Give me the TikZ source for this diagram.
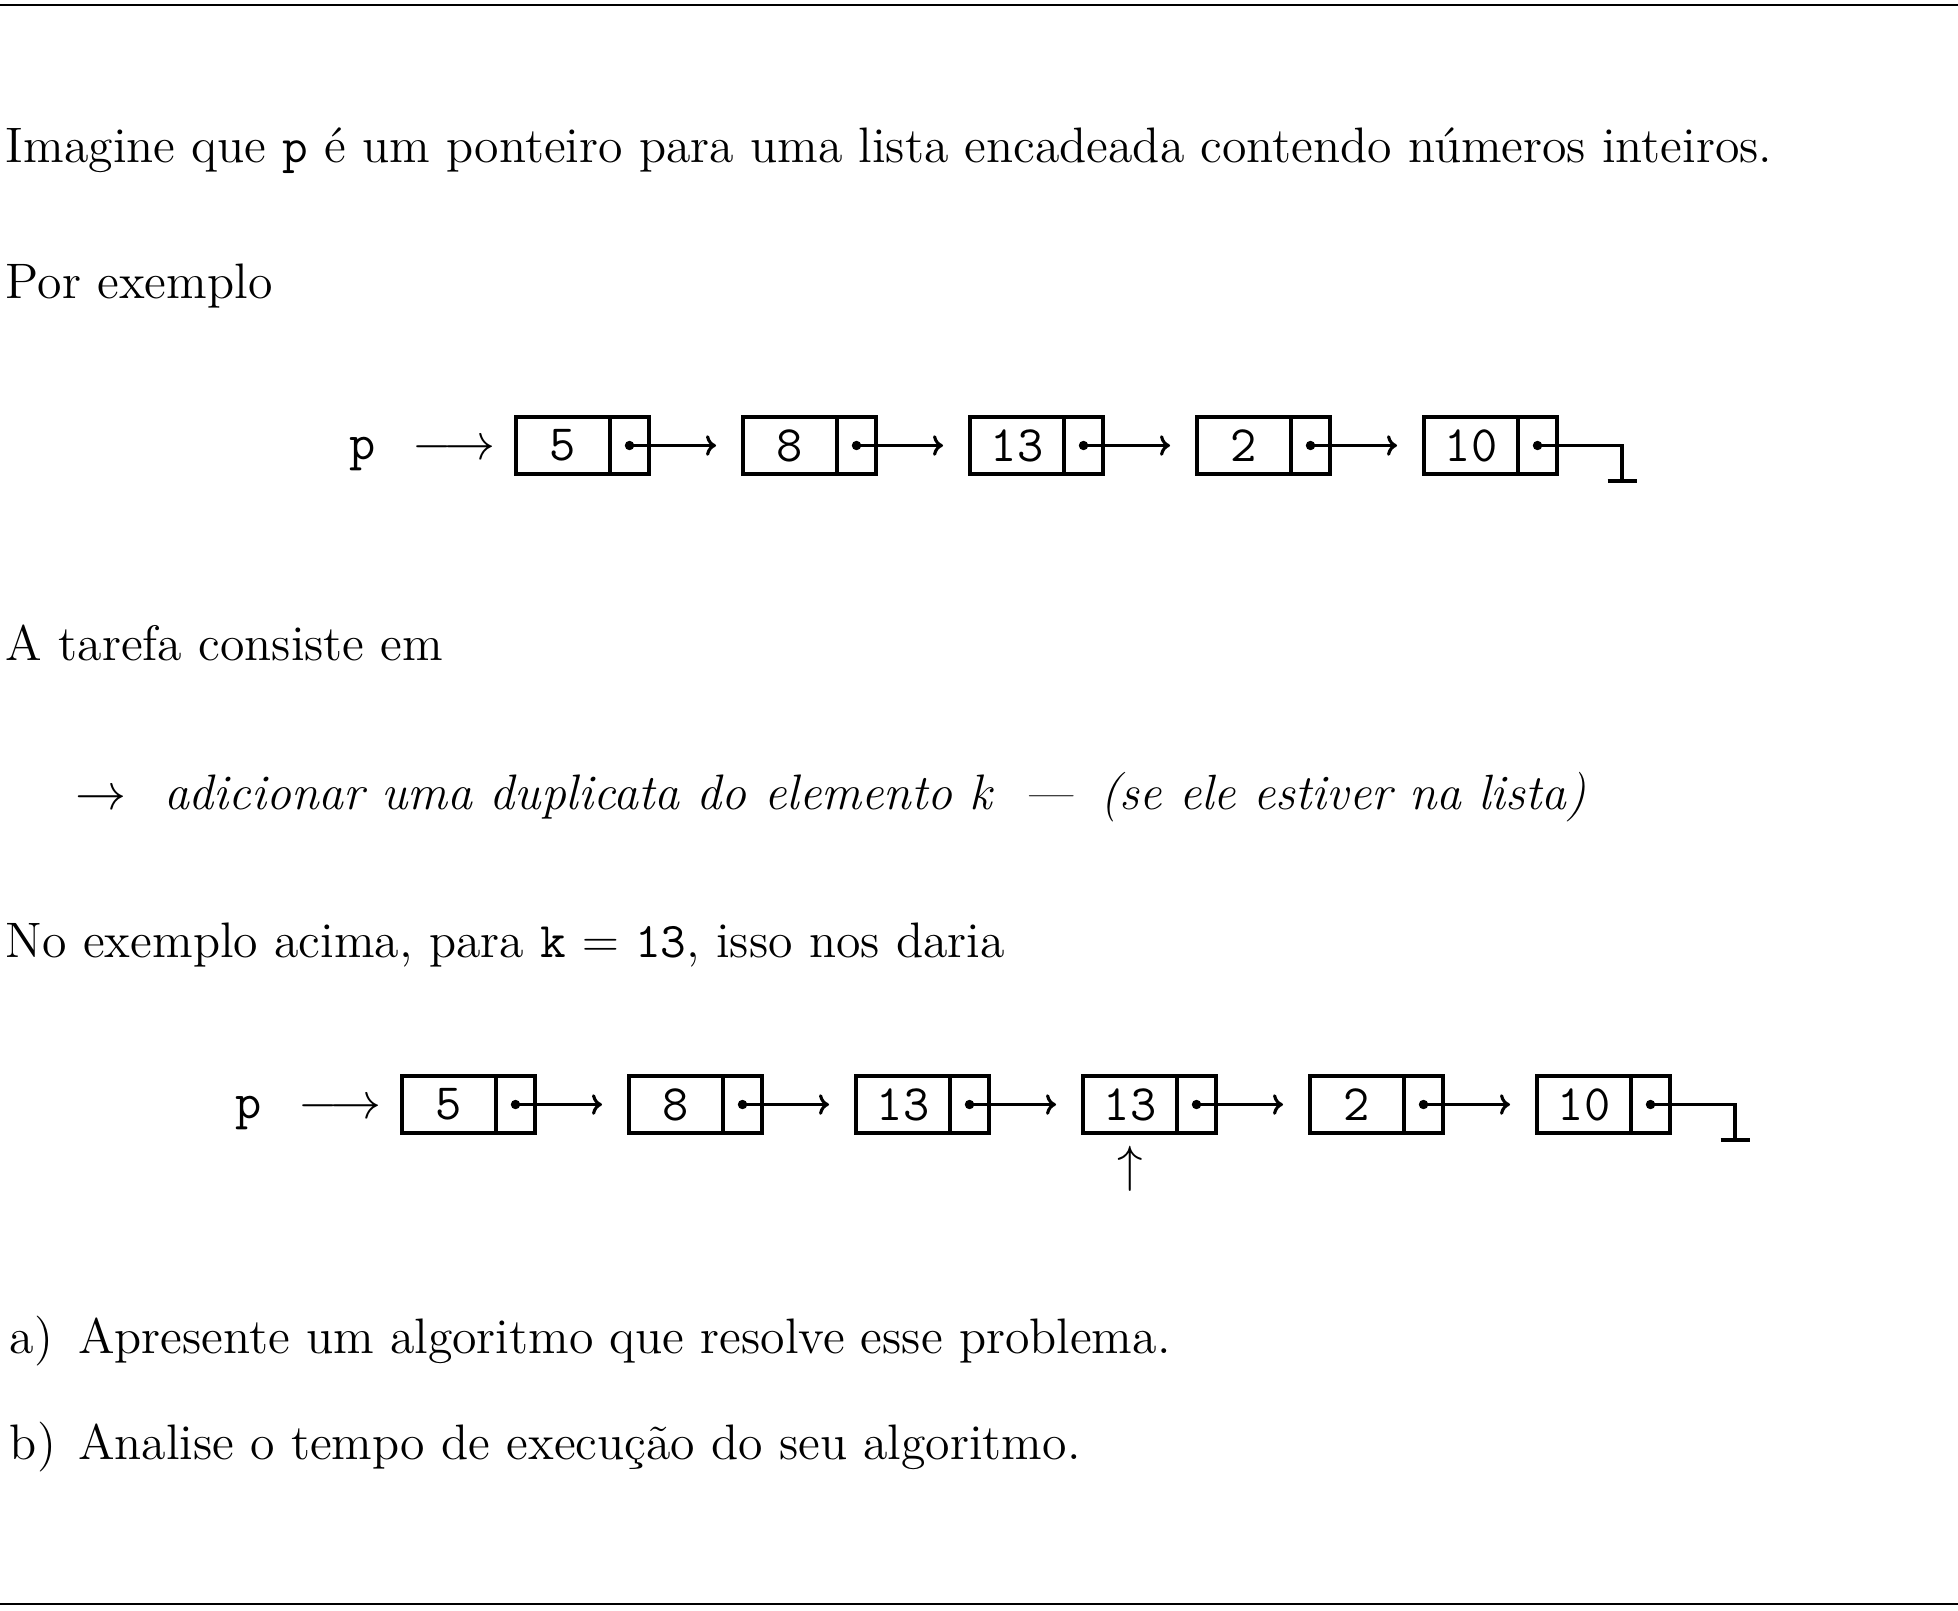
\documentclass[tikz,border=0pt]{standalone}
\usepackage{fontspec}
\setmainfont{lmroman12-regular.otf}[ItalicFont=lmroman12-italic.otf,BoldFont=lmroman12-bold.otf]
\usetikzlibrary{arrows.meta}
\begin{document}
\begin{tikzpicture}[x=0.339pt,y=-0.339pt,
  every node/.style={inner sep=0pt,outer sep=0pt},
  font=\fontsize{17.28}{21}\selectfont,
  txt/.style={anchor=base west,font=\fontsize{16.9}{21}\selectfont},
  itxt/.style={anchor=base west,font=\fontsize{16.9}{21}\selectfont\itshape},
  valcell/.style={draw,line width=1.05pt,minimum width=31.87pt,minimum height=19.32pt,font=\fontsize{17.28}{21}\selectfont\ttfamily},
  ptrcell/.style={draw,line width=1.05pt,minimum width=13.22pt,minimum height=19.32pt,anchor=west},
  link/.style={line width=1.05pt,-{Computer Modern Rightarrow[length=3.4pt,width=7pt]},shorten >=9.15pt},
  nil/.style={line width=1.05pt},
  rulestyle/.style={line width=0.68pt}]
\useasboundingbox (0,0) rectangle (1958,1610);
\draw[rulestyle] (0,5) -- (1958,5);
\draw[rulestyle] (0,1604) -- (1958,1604);
% texts
\node[txt] (t1) at (6,162) {Imagine que \texttt{p} é um ponteiro para uma lista encadeada contendo números inteiros.};
\node[txt] (t2) at (6,298) {Por exemplo};
\node[txt] (t3) at (6,660) {A tarefa consiste em};
\node[anchor=base west] (t4a) at (76,809) {$\rightarrow$};
\node[itxt] (t4b) at (164,809) {adicionar uma duplicata do elemento k};
\node[itxt] (t4c) at (1023,809) {—};
\node[itxt,font=\fontsize{16.8}{21}\selectfont\itshape] (t4d) at (1100,809) {(se ele estiver na lista)};
\node[txt] (t5) at (6,957) {No exemplo acima, para \texttt{k} $=$ \texttt{13}, isso nos daria};
\node[txt] (t6a) at (10,1353) {a)};
\node[txt] (t6b) at (78,1353) {Apresente um algoritmo que resolve esse problema.};
\node[txt] (t7a) at (10,1459) {b)};
\node[txt] (t7b) at (78,1459) {Analise o tempo de execução do seu algoritmo.};
% list 1
\node[anchor=base,font=\fontsize{17.28}{21}\selectfont\ttfamily] (pa) at (363,459) {p};
\node[anchor=base] (ra) at (454,459) {$\longrightarrow$};
\foreach \v [count=\i] in {5,8,13,2,10} {
  \node[valcell] (v\i) at ({563+227*(\i-1)},445.5) {\v};
  \node[ptrcell] (n\i) at (v\i.east) {};
}
\foreach \i/\j in {1/2,2/3,3/4,4/5} \draw[link] (n\i.center) -- (v\j.west);
\coordinate (za) at (1622,481);
\coordinate (zal) at (1607.5,481);
\coordinate (zar) at (1636.5,481);
\draw[nil] (n5.center) -| (za);
\draw[nil] (zal) -- (zar);
\foreach \i in {1,...,5} \fill (n\i.center) circle (1.6pt);
% list 2
\node[anchor=base,font=\fontsize{17.28}{21}\selectfont\ttfamily] (pb) at (249,1118) {p};
\node[anchor=base] (rb) at (340,1118) {$\longrightarrow$};
\foreach \v [count=\i] in {5,8,13,13,2,10} {
  \node[valcell] (w\i) at ({449+227*(\i-1)},1104.5) {\v};
  \node[ptrcell] (m\i) at (w\i.east) {};
}
\foreach \i/\j in {1/2,2/3,3/4,4/5,5/6} \draw[link] (m\i.center) -- (w\j.west);
\coordinate (zb) at (1735,1140);
\coordinate (zbl) at (1720.5,1140);
\coordinate (zbr) at (1749.5,1140);
\draw[nil] (m6.center) -| (zb);
\draw[nil] (zbl) -- (zbr);
\foreach \i in {1,...,6} \fill (m\i.center) circle (1.6pt);
\node[anchor=north] (up) at (w4.south |- 0,1146) {$\uparrow$};
\end{tikzpicture}
\end{document}
